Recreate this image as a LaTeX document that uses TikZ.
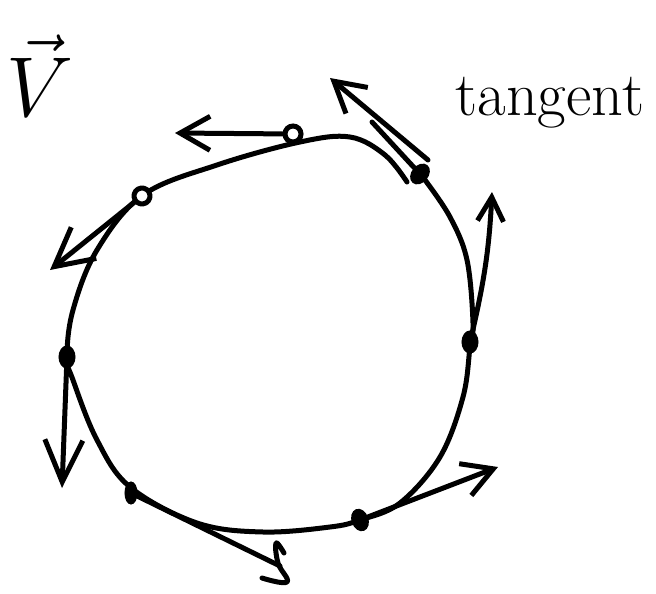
\documentclass[tikz,border=0pt]{standalone}
\usepackage{amsmath}
\usepackage{tikz}
\usetikzlibrary{arrows.meta,shapes.geometric}

\begin{document}
\begin{tikzpicture}[x=1pt,y=-1pt,
  hand/.style={line width=5pt,line cap=round,line join=round},
  dot/.style={ellipse,fill=black,draw=black,line width=2pt,inner sep=0pt,minimum width=15pt,minimum height=21pt},
  ringdot/.style={dot,fill=white,line width=5pt,minimum width=16pt,minimum height=16pt},
  vec/.style={hand,-{Straight Barb[length=30pt,width=34pt,line width=5pt]}}]
 \useasboundingbox (0,0) rectangle (656,594);
 % the closed curve
 \draw[hand] plot[smooth,tension=.6] coordinates {(425,180) (450,217) (467,260) (473,323)
   (470,347) (463,397) (440,457) (400,503) (360,520) (330,527) (263,532) (197,523)
   (130,487) (97,440) (73,380) (67,357) (73,310) (97,250) (143,195) (217,165)
   (300,142) (350,137) (385,155) (407,182)};
 % points on the curve
 \node[ringdot] (ptop) at (293,134) {};
 \node[dot,rotate=-40] (pne) at (420,174) {};
 \node[dot] (peast) at (470,342) {};
 \node[dot,rotate=20] (psouth) at (360,520) {};
 \node[dot,minimum width=11pt] (psw) at (131,493) {};
 \node[dot] (pwest) at (67,357) {};
 \node[ringdot,rotate=30] (pnw) at (142,196) {};
 % ends of the tangent vectors
 \coordinate (tne0) at (428,160);
 \coordinate (tne) at (330,78);
 \coordinate (ttop) at (175,133);
 \coordinate (tnw) at (50,270);
 \coordinate (twest) at (62,488);
 \coordinate (tsw) at (280,566);
 \coordinate (tsouth) at (498,467);
 \coordinate (teast) at (492,192);
 % tangents
 \draw[vec] (ptop) -- (ttop);
 \draw[vec] (tne0) -- (tne);
 \draw[hand] (372,122) -- (pne);
 \draw[vec,-{Straight Barb[length=38pt,width=40pt,line width=5pt]}] (pnw) -- (tnw);
 \draw[vec,-{Straight Barb[length=42pt,width=38pt,line width=5pt]}] (pwest) -- (twest);
 \draw[hand] (psw) -- (tsw);
 \draw[hand] plot[smooth,tension=.7] coordinates {(284,553) (276,543) (278,563) (287,582) (262,578)};
 \draw[vec] (psouth) -- (tsouth);
 \draw[vec,-{Straight Barb[length=24pt,width=26pt,line width=5pt]}] (peast) to[bend right=5] (teast);
 % labels
 \node[anchor=base west,inner sep=0pt,font=\huge,scale=4.1] (vlabel) at (6,117) {$\vec{V}$};
 \node[anchor=base west,inner sep=0pt,font=\huge,scale=3.0] (tlabel) at (455,115) {tangent};
\end{tikzpicture}
\end{document}
